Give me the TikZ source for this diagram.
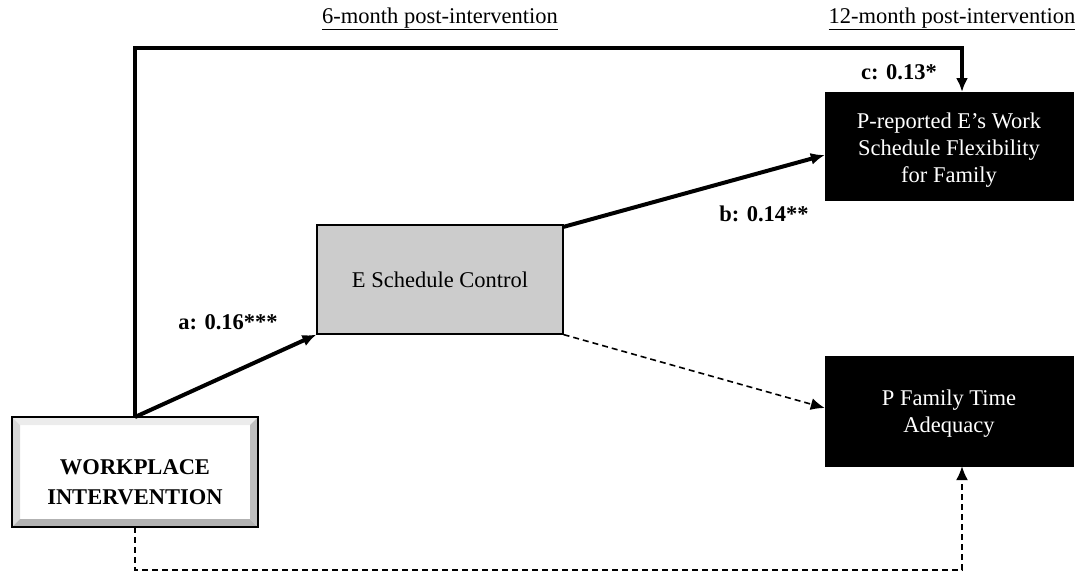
\documentclass[tikz,border=0pt]{standalone}
\usepackage{fontspec}
\setmainfont{Liberation Serif}
\usetikzlibrary{arrows.meta}
\begin{document}
\begin{tikzpicture}[x=1pt,y=-1pt,
  txt/.style={font=\fontsize{22.5}{27}\selectfont, align=center},
  lbl/.style={font=\fontsize{22.5}{27}\selectfont\bfseries},
  blackbox/.style={draw=black, fill=black, minimum width=248pt, minimum height=108pt, inner sep=0pt},
  wtxt/.style={txt, text=white},
  thick path/.style={line width=4pt, -{Latex[length=14pt,width=12pt]}},
  dash path/.style={line width=1.6pt, dash pattern=on 6pt off 4pt, -{Latex[length=14pt,width=12pt]}},
]
\useasboundingbox (0,0) rectangle (1087,576);
% workplace beveled box
\fill[gray!15] (12,417) -- (258,417) -- (250,425) -- (20,425) -- cycle;
\fill[gray!30] (12,417) -- (20,425) -- (20,519) -- (12,527) -- cycle;
\fill[gray!50] (258,417) -- (258,527) -- (250,519) -- (250,425) -- cycle;
\fill[gray!60] (12,527) -- (258,527) -- (250,519) -- (20,519) -- cycle;
\node[draw=black, line width=1.2pt, minimum width=246pt, minimum height=110pt, inner sep=0pt] (wi) at (135,472) {};
\node[font=\fontsize{22.5}{30}\selectfont\bfseries, align=center] (wit) at (135,482) {WORKPLACE\\INTERVENTION};
\node[draw=black, line width=1.2pt, fill=gray!40, minimum width=246pt, minimum height=109pt, inner sep=0pt, txt] (esc) at (440,279.5) {E Schedule Control};
\node[blackbox] (pr) at (949,146) {};
\node[wtxt] (prt) at (949,150) {P-reported E’s Work\\Schedule Flexibility\\for Family};
\node[blackbox, minimum height=110pt] (pf) at (949,411) {};
\node[wtxt] (pft) at (949,414) {P Family Time\\Adequacy};
\node[txt] (h1) at (440,19) {\underline{6-month post-intervention}};
\node[txt] (h2) at (952,19) {\underline{12-month post-intervention}};
% paths
\coordinate (wtop) at (135,417);
\coordinate (wbot) at (135,527);
\draw[thick path] (wtop) -- (135,48) -- (962,48) -- (962,92);
\draw[thick path] (wtop) -- (esc.south west);
\draw[thick path] (563,227) -- (pr.west |- 0,155);
\draw[dash path] (esc.south east) -- (pf.west |- 0,408);
\draw[dash path] (wbot) -- (135,570) -- (962,570) -- (pf.south -| 962,0);
\node[lbl] (lc) at (899,72) {c: 0.13*};
\node[lbl] (lb) at (764,214) {b: 0.14**};
\node[lbl] (la) at (228,322) {a: 0.16***};
\end{tikzpicture}
\end{document}
